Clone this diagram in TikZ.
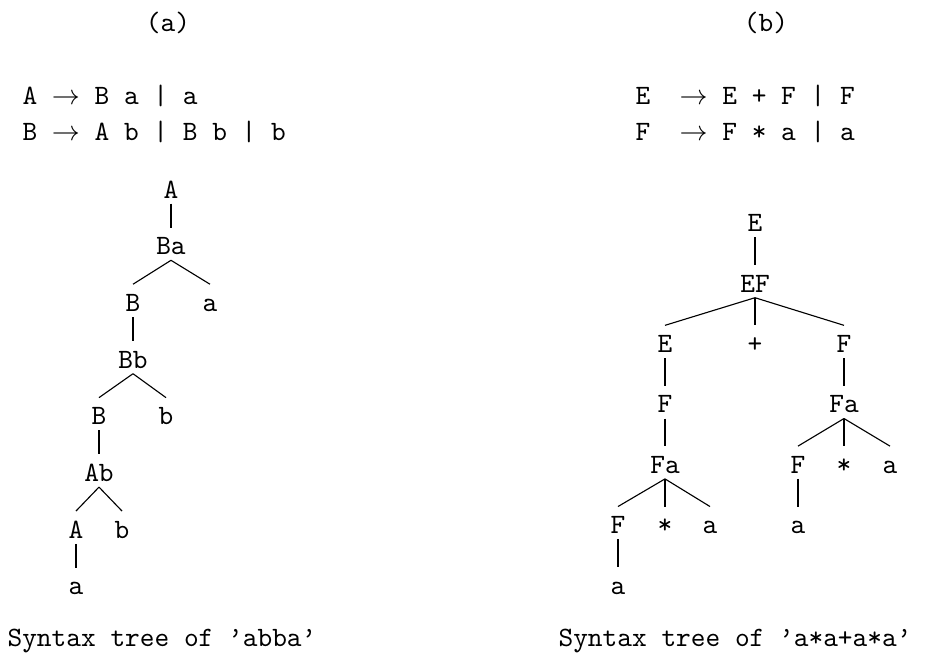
\documentclass[tikz,border=0pt]{standalone}
\tikzset{
  sym/.style={inner sep=0pt, text height=9.5pt, text depth=1.8pt, anchor=base, font=\ttfamily},
  gram/.style={inner sep=0pt, anchor=base west, font=\ttfamily},
  titletext/.style={inner sep=0pt, anchor=base, font=\ttfamily},
  captext/.style={inner sep=0pt, anchor=base west, font=\ttfamily},
  edge/.style={line width=0.4pt}
}
\begin{document}
\begin{tikzpicture}[x=0.357pt, y=-0.357pt]
  \useasboundingbox (0,0) rectangle (925,662);
  % titles
  \node[titletext] (ta) at (168,31.5) {(a)};
  \node[titletext] (tb) at (766,31.5) {(b)};
  % grammars
  \node[gram] (ga1) at (22,104) {A $\rightarrow$ B a | a};
  \node[gram] (ga2) at (22,140) {B $\rightarrow$ A b | B b | b};
  \node[gram] (gb1) at (635,104) {E~~$\rightarrow$ E + F | F};
  \node[gram] (gb2) at (635,140) {F~~$\rightarrow$ F * a | a};
  % tree (a)
  \node[sym] (aA)  at (171,198)   {A};
  \node[sym] (aBa) at (171,254.7) {Ba};
  \node[sym] (aB1) at (133,311.4) {B};
  \node[sym] (aa1) at (210,311.4) {a};
  \node[sym] (aBb) at (133,368.1) {Bb};
  \node[sym] (aB2) at (99,424.8)  {B};
  \node[sym] (ab1) at (166,424.8) {b};
  \node[sym] (aAb) at (99,481.5)  {Ab};
  \node[sym] (aA2) at (76,538.2)  {A};
  \node[sym] (ab2) at (122,538.2) {b};
  \node[sym] (aa2) at (76,594.9)  {a};
  \draw[edge] (aA.south) -- (aBa.north);
  \draw[edge] (aBa.south) -- (aB1.north);
  \draw[edge] (aBa.south) -- (aa1.north);
  \draw[edge] (aB1.south) -- (aBb.north);
  \draw[edge] (aBb.south) -- (aB2.north);
  \draw[edge] (aBb.south) -- (ab1.north);
  \draw[edge] (aB2.south) -- (aAb.north);
  \draw[edge] (aAb.south) -- (aA2.north);
  \draw[edge] (aAb.south) -- (ab2.north);
  \draw[edge] (aA2.south) -- (aa2.north);
  % tree (b)
  \node[sym] (bE)   at (755,231.7) {E};
  \node[sym] (bEF)  at (755,292.1) {EF};
  \node[sym] (bE1)  at (665,352.5) {E};
  \node[sym] (bpl)  at (755,352.5) {+};
  \node[sym] (bF1)  at (844,352.5) {F};
  \node[sym] (bF2)  at (665,412.9) {F};
  \node[sym] (bFa1) at (844,412.9) {Fa};
  \node[sym] (bFa2) at (665,473.3) {Fa};
  \node[sym] (bF3)  at (798,473.3) {F};
  \node[sym] (bst1) at (844,473.3) {*};
  \node[sym] (ba1)  at (890,473.3) {a};
  \node[sym] (bF4)  at (618,533.7) {F};
  \node[sym] (bst2) at (665,533.7) {*};
  \node[sym] (ba2)  at (710,533.7) {a};
  \node[sym] (ba3)  at (798,533.7) {a};
  \node[sym] (ba4)  at (618,594.1) {a};
  \draw[edge] (bE.south) -- (bEF.north);
  \draw[edge] (bEF.south) -- (bE1.north);
  \draw[edge] (bEF.south) -- (bpl.north);
  \draw[edge] (bEF.south) -- (bF1.north);
  \draw[edge] (bE1.south) -- (bF2.north);
  \draw[edge] (bF1.south) -- (bFa1.north);
  \draw[edge] (bF2.south) -- (bFa2.north);
  \draw[edge] (bFa1.south) -- (bF3.north);
  \draw[edge] (bFa1.south) -- (bst1.north);
  \draw[edge] (bFa1.south) -- (ba1.north);
  \draw[edge] (bFa2.south) -- (bF4.north);
  \draw[edge] (bFa2.south) -- (bst2.north);
  \draw[edge] (bFa2.south) -- (ba2.north);
  \draw[edge] (bF3.south) -- (ba3.north);
  \draw[edge] (bF4.south) -- (ba4.north);
  % captions
  \node[captext] (capa) at (7,646)   {Syntax tree of \textquoteright abba\textquoteright};
  \node[captext] (capb) at (558,646) {Syntax tree of \textquoteright a*a+a*a\textquoteright};
\end{tikzpicture}
\end{document}
